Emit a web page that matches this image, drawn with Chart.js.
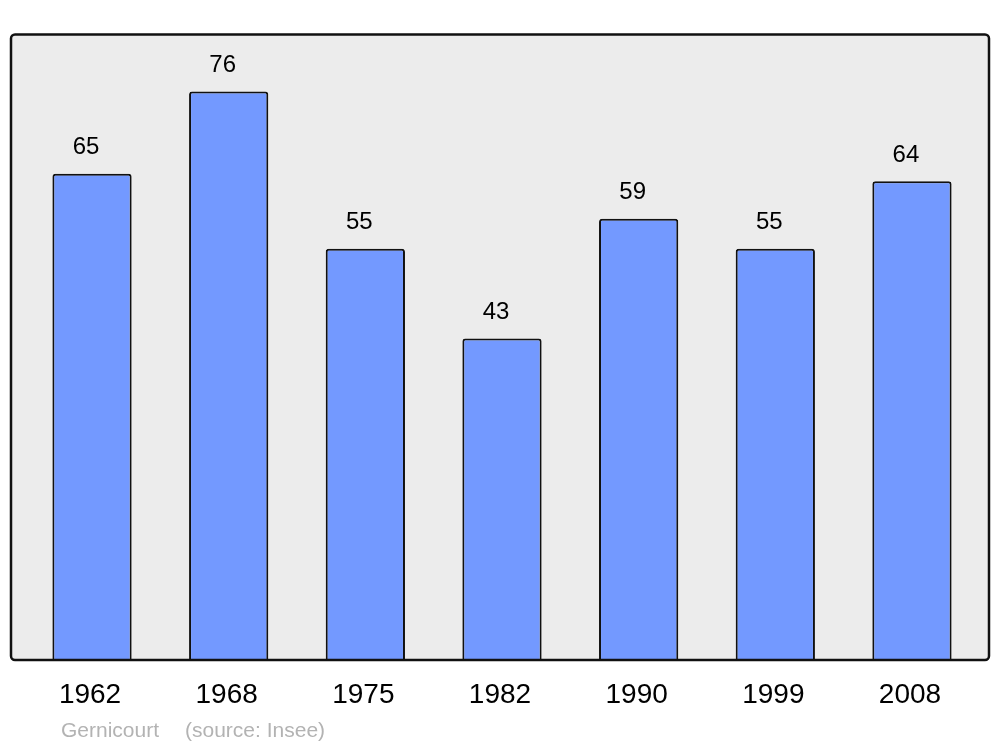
<!DOCTYPE html>
<html>
<head>
<meta charset="utf-8">
<script src="https://cdn.jsdelivr.net/npm/chart.js@4"></script>
<style>
  html, body { margin: 0; padding: 0; background: #fff; }
  canvas { display: block; }
</style>
</head>
<body>
<canvas id="pop" width="1000" height="747"></canvas>
<script>
const years = ['1962', '1968', '1975', '1982', '1990', '1999', '2008'];
const population = [65, 76, 55, 43, 59, 55, 64];
const town = 'Gernicourt';
const source = '(source: Insee)';

const FONT = '"Liberation Sans", Arial, sans-serif';

// grey box behind the bars, its outline drawn after them
const framePlugin = {
  id: 'frame',
  beforeDatasetsDraw(chart) {
    const ctx = chart.ctx;
    ctx.save();
    ctx.beginPath();
    ctx.roundRect(11, 34.5, 978, 625.5, 4);
    ctx.fillStyle = '#ececec';
    ctx.fill();
    ctx.restore();
  },
  afterDatasetsDraw(chart) {
    const ctx = chart.ctx;
    ctx.save();
    ctx.beginPath();
    ctx.roundRect(11, 34.5, 978, 625.5, 4);
    ctx.lineWidth = 2.5;
    ctx.strokeStyle = '#111';
    ctx.stroke();
    ctx.restore();
  }
};

// values above bars, years below, footer text
const labelPlugin = {
  id: 'labels',
  afterDraw(chart) {
    const ctx = chart.ctx;
    const meta = chart.getDatasetMeta(0);
    const xs = chart.scales.x;
    ctx.save();
    ctx.fillStyle = '#000';
    ctx.textAlign = 'center';
    ctx.textBaseline = 'middle';
    ctx.font = '24px ' + FONT;
    meta.data.forEach((bar, i) => {
      ctx.fillText(String(population[i]), bar.x - 6, bar.y - 26);
    });
    ctx.font = '28px ' + FONT;
    years.forEach((y, i) => {
      ctx.fillText(y, xs.getPixelForValue(i) - 2, 695.5);
    });
    ctx.font = '21px ' + FONT;
    ctx.fillStyle = '#b3b3b3';
    ctx.textAlign = 'left';
    ctx.fillText(town, 61, 731);
    ctx.fillText(source, 185, 731);
    ctx.restore();
  }
};

new Chart(document.getElementById('pop'), {
  type: 'bar',
  data: {
    labels: years,
    datasets: [{
      data: population,
      backgroundColor: '#7399ff',
      borderColor: '#111',
      borderWidth: 2,
      borderRadius: { topLeft: 3, topRight: 3 },
      borderSkipped: 'bottom',
      barPercentage: 0.58,
      categoryPercentage: 1
    }]
  },
  options: {
    responsive: false,
    animation: false,
    devicePixelRatio: 1,
    layout: { padding: { left: 23.7, right: 19.7, top: 34, bottom: 87 } },
    plugins: { legend: { display: false }, tooltip: { enabled: false } },
    scales: {
      x: { display: false },
      y: { display: false, min: 0, max: 83.7 }
    }
  },
  plugins: [framePlugin, labelPlugin]
});
</script>
</body>
</html>
